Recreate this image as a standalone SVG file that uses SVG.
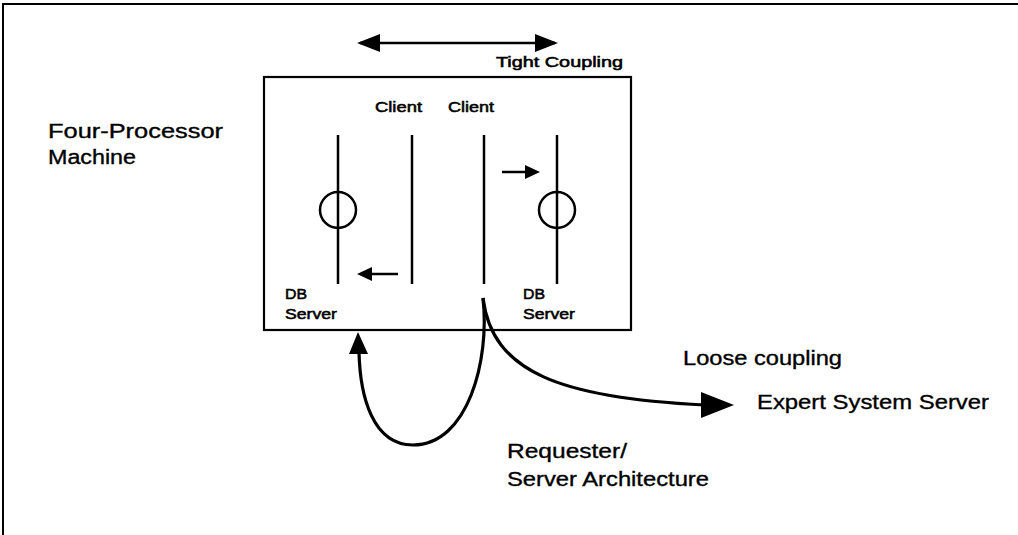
<svg xmlns="http://www.w3.org/2000/svg" width="1018" height="535" viewBox="0 0 1018 535">
  <style>
    text { font-family: "Liberation Sans", Arial, sans-serif; fill: #000; stroke: #000; stroke-width: 0.35; }
    .lbl { font-size: 20px; }
    .sm { font-size: 15px; stroke-width: 0.55; }
    .ln { stroke: #000; fill: none; stroke-linecap: butt; }
  </style>

  <rect width="1018" height="535" fill="#fff"/>
  <!-- page frame -->
  <path class="ln" d="M3,535 V4 H1018" stroke-width="2"/>

  <!-- machine box -->
  <g id="machine">
    <rect x="264" y="77" width="367" height="253" fill="none" stroke="#000" stroke-width="2.2"/>
    <text class="lbl" x="48" y="138" textLength="175" lengthAdjust="spacingAndGlyphs">Four-Processor</text>
    <text class="lbl" x="48" y="164" textLength="88" lengthAdjust="spacingAndGlyphs">Machine</text>
  </g>

  <g id="db-server-left">
    <line class="ln" x1="338" y1="135" x2="338" y2="284" stroke-width="2.5"/>
    <circle cx="338" cy="210" r="18" fill="none" stroke="#000" stroke-width="2.5"/>
    <text class="sm" x="285" y="299" textLength="22" lengthAdjust="spacingAndGlyphs">DB</text>
    <text class="sm" x="285" y="319" textLength="52" lengthAdjust="spacingAndGlyphs">Server</text>
  </g>

  <g id="client-left">
    <line class="ln" x1="412" y1="135" x2="412" y2="284" stroke-width="2.5"/>
    <text class="sm" x="375" y="112" textLength="47" lengthAdjust="spacingAndGlyphs">Client</text>
  </g>

  <g id="client-right">
    <line class="ln" x1="484" y1="135" x2="484" y2="284" stroke-width="2.5"/>
    <text class="sm" x="448" y="112" textLength="46" lengthAdjust="spacingAndGlyphs">Client</text>
  </g>

  <g id="db-server-right">
    <line class="ln" x1="557" y1="135" x2="557" y2="284" stroke-width="2.5"/>
    <circle cx="557" cy="210" r="18" fill="none" stroke="#000" stroke-width="2.5"/>
    <text class="sm" x="523" y="299" textLength="22" lengthAdjust="spacingAndGlyphs">DB</text>
    <text class="sm" x="523" y="319" textLength="52" lengthAdjust="spacingAndGlyphs">Server</text>
  </g>

  <g id="expert-system">
    <text class="lbl" x="757" y="409" textLength="232" lengthAdjust="spacingAndGlyphs">Expert System Server</text>
  </g>

  <g id="connectors">
    <!-- tight coupling span -->
    <line class="ln" x1="360" y1="43" x2="555" y2="43" stroke-width="2.5"/>
    <path d="M357,43 L380,34 L380,52 z" fill="#000"/>
    <path d="M558,43 L535,34 L535,52 z" fill="#000"/>
    <text class="sm" x="496" y="67" textLength="127" lengthAdjust="spacingAndGlyphs">Tight Coupling</text>

    <!-- calls between clients and servers -->
    <line class="ln" x1="398" y1="274" x2="370" y2="274" stroke-width="2.5"/>
    <path d="M357,274 L372,267 L372,281 z" fill="#000"/>
    <line class="ln" x1="502" y1="172" x2="527" y2="172" stroke-width="2.5"/>
    <path d="M540,172 L525,165 L525,179 z" fill="#000"/>

    <!-- requester/server loop -->
    <path class="ln" d="M483,298 C490,360 468,445 413,445 C372,445 360,395 359,352" stroke-width="3.2"/>
    <path d="M358,332 L349,354 L368,354 z" fill="#000"/>

    <!-- loose coupling to expert system -->
    <path class="ln" d="M483,298 C492,372 560,398 705,405" stroke-width="3.2"/>
    <path d="M734,405 L701,392 L701,418 z" fill="#000"/>

    <text class="lbl" x="683" y="365" textLength="159" lengthAdjust="spacingAndGlyphs">Loose coupling</text>
    <text class="lbl" x="507" y="458" textLength="120" lengthAdjust="spacingAndGlyphs">Requester/</text>
    <text class="lbl" x="507" y="486" textLength="202" lengthAdjust="spacingAndGlyphs">Server Architecture</text>
  </g>
</svg>
